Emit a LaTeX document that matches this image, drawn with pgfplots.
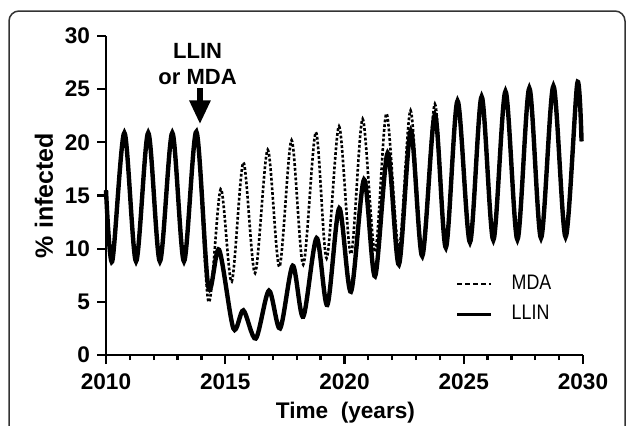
\documentclass[border=0pt]{standalone}
\usepackage{pgfplots}
\pgfplotsset{compat=1.18}
\usepackage{graphicx}
\usepackage{fontspec}
\setmainfont{Liberation Sans}
\usetikzlibrary{arrows.meta}

\begin{document}
\begin{tikzpicture}
\useasboundingbox (0,0) rectangle (313.5pt,212.5pt);
% frame round the figure (bottom edge is cut off in the original)
\draw[line width=0.75pt, rounded corners=5pt, black!80] (4.5pt,-20pt) rectangle (312.5pt,207pt);

\begin{axis}[
  at={(53pt,35pt)}, anchor=south west,
  scale only axis, width=238.5pt, height=159.5pt,
  xmin=2010, xmax=2030, ymin=0, ymax=30,
  xtick={2010,2015,...,2030}, ytick={0,5,...,30},
  minor x tick num=4,
  axis lines*=left,
  tick align=outside,
  major tick length=4.5pt, minor tick length=2.5pt,
  axis line style={line width=1.15pt},
  every tick/.style={line width=1.15pt, black},
  /pgf/number format/assume math mode=true,
  x tick label style={/pgf/number format/1000 sep={}, yshift=-1.5pt},
  ticklabel style={font=\fontsize{11.3}{13}\selectfont\bfseries},
  xlabel={Time\ \ (years)},
  ylabel={\% infected},
  xlabel style={font=\fontsize{11.3}{13}\selectfont\bfseries, at={(axis description cs:0.502,-0.2)}, anchor=base},
  ylabel style={font=\fontsize{12.5}{14}\selectfont\bfseries, at={(axis description cs:-0.13,0.5)}, anchor=center},
  legend style={draw=none, fill=none, at={(axis description cs:0.732,0.1755)}, anchor=west,
    inner sep=0pt, row sep=2.5pt, column sep=7.5pt, font=\fontsize{10.5}{12}\selectfont},
  legend cell align=left,
  clip=false,
]
% MDA
\addplot[smooth, line width=1.3pt, dash pattern=on 1.4pt off 1pt, forget plot] coordinates {
(2010.00,15.5) (2010.26,8.8) (2010.77,20.9) (2011.26,8.8) (2011.77,20.9)
(2012.26,8.8) (2012.78,20.9) (2013.27,8.8) (2013.79,21.0)
(2014.30,5.0) (2014.81,15.6) (2015.27,6.9) (2015.76,18.1) (2016.25,7.7)
(2016.78,19.3) (2017.27,8.3) (2017.78,20.2) (2018.27,8.5) (2018.80,20.95)
(2019.25,9.1) (2019.77,21.5) (2020.27,9.5) (2020.76,22.2) (2021.28,9.7)
(2021.76,22.7) (2022.28,10.0) (2022.77,23.0) (2023.26,9.6) (2023.79,23.6)
(2024.25,10.2) (2024.74,24.0) (2025.26,10.6) (2025.75,24.3) (2026.24,10.8)
(2026.75,24.8) (2027.25,10.85) (2027.75,25.1) (2028.24,11.0) (2028.76,25.3)
(2029.27,11.1) (2029.76,25.55) (2029.94,20.1)
};
% LLIN
\addplot[smooth, line width=2.2pt, forget plot] coordinates {
(2010.00,15.5) (2010.26,8.8) (2010.77,20.9) (2011.26,8.8) (2011.77,20.9)
(2012.26,8.8) (2012.78,20.9) (2013.27,8.8) (2013.79,21.0)
(2014.29,6.4) (2014.74,9.9) (2015.34,2.5) (2015.76,4.2) (2016.28,1.55)
(2016.83,6.05) (2017.30,2.5) (2017.83,8.4) (2018.27,3.6) (2018.83,11.0)
(2019.28,4.7) (2019.78,13.8) (2020.27,5.95) (2020.82,16.5) (2021.28,7.4)
(2021.81,19.0) (2022.28,8.5) (2022.78,21.1) (2023.26,9.3) (2023.79,22.6)
(2024.25,10.1) (2024.74,23.9) (2025.26,10.6) (2025.75,24.3) (2026.24,10.8)
(2026.75,24.8) (2027.25,10.85) (2027.75,25.1) (2028.24,11.0) (2028.76,25.3)
(2029.27,11.1) (2029.76,25.55) (2029.94,20.1)
};
\addlegendimage{line width=1pt, dash pattern=on 2.5pt off 1.5pt}
\addlegendentry{\scalebox{0.85}[1]{MDA}}
\addlegendimage{line width=1.5pt}
\addlegendentry{\scalebox{0.85}[1]{LLIN}}

\node[font=\fontsize{11}{12.85}\selectfont\bfseries, align=center] at (axis cs:2013.84,27.35) {LLIN\\or MDA};
\draw[-{Triangle[width=10pt,length=12pt]}, line width=3pt] (axis cs:2013.94,25.1) -- (axis cs:2013.94,21.7);
\end{axis}
\end{tikzpicture}
\end{document}
